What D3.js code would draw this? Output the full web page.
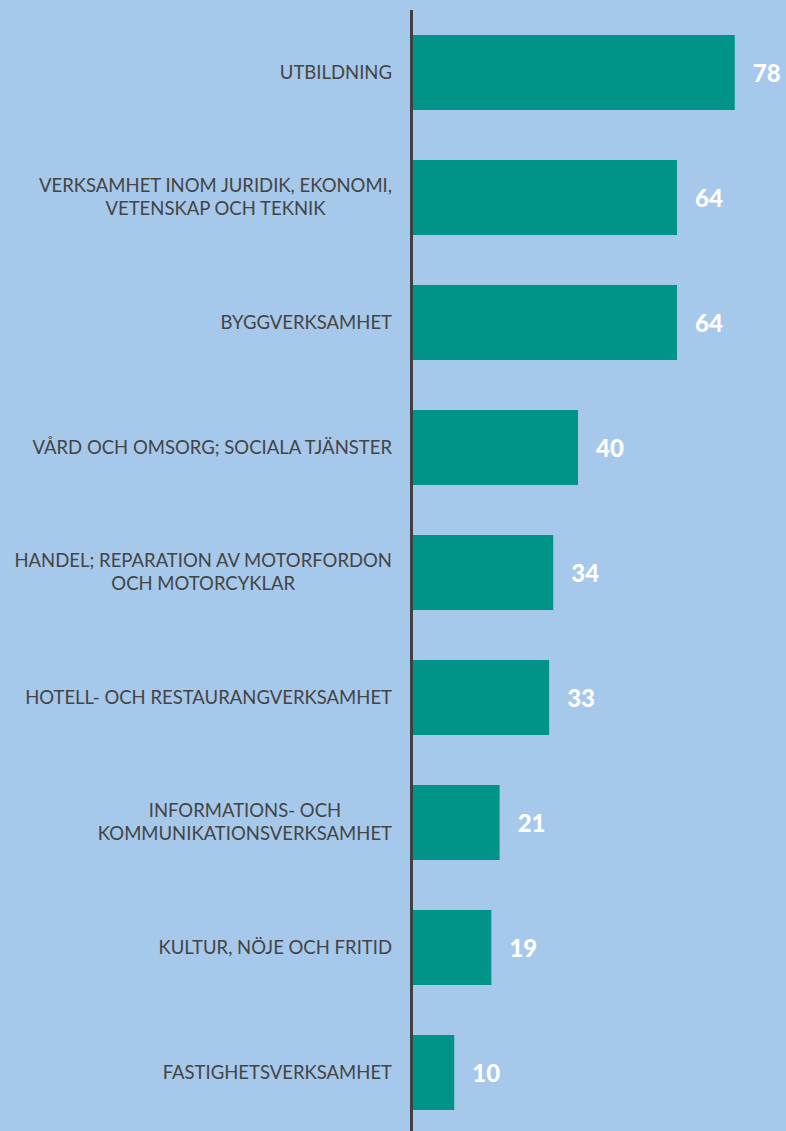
<!DOCTYPE html>
<html>
<head>
<meta charset="utf-8">
<script src="https://cdn.jsdelivr.net/npm/d3@7"></script>
<style>
    html, body { margin: 0; padding: 0; background: #A6C8EA; }
    svg { display: block; }
</style>
</head>
<body>
<div id="chart"></div>
<script>
// Categories (each entry is the list of lines of the label) and values
const categories = [
    ["UTBILDNING"],
    ["VERKSAMHET INOM JURIDIK, EKONOMI,", "VETENSKAP OCH TEKNIK"],
    ["BYGGVERKSAMHET"],
    ["VÅRD OCH OMSORG; SOCIALA TJÄNSTER"],
    ["HANDEL; REPARATION AV MOTORFORDON", "OCH MOTORCYKLAR"],
    ["HOTELL- OCH RESTAURANGVERKSAMHET"],
    ["INFORMATIONS- OCH", "KOMMUNIKATIONSVERKSAMHET"],
    ["KULTUR, NÖJE OCH FRITID"],
    ["FASTIGHETSVERKSAMHET"]
];
const values = [78, 64, 64, 40, 34, 33, 21, 19, 10];

function draw_chart() {
    const width = 786;
    const height = 1131;
    const axis_x = 411.5;
    const bar_left = 413;
    const label_right = 392;
    const line_height = 23;

    const bar_color = "#009488";
    const text_color = "#444444";

    const svg = d3.create("svg")
        .attr("width", width)
        .attr("height", height);

    svg.append("rect")
        .attr("width", width)
        .attr("height", height)
        .attr("fill", "#A6C8EA");

    const xScale = d3.scaleLinear()
        .domain([0, 80])
        .range([bar_left, bar_left + 330]);

    const yScale = d3.scaleBand()
        .domain(d3.range(values.length))
        .range([10, 1135])
        .paddingInner(0.4)
        .paddingOuter(0.2);

    // bars
    svg.append("g")
        .selectAll("rect")
        .data(values)
        .join("rect")
        .attr("x", xScale(0))
        .attr("y", (d, i) => yScale(i))
        .attr("width", d => xScale(d) - xScale(0))
        .attr("height", yScale.bandwidth())
        .attr("fill", bar_color);

    // value labels
    svg.append("g")
        .selectAll("text")
        .data(values)
        .join("text")
        .attr("x", d => xScale(d) + 18)
        .attr("y", (d, i) => yScale(i) + yScale.bandwidth() / 2 + 1)
        .attr("dy", "0.36em")
        .attr("font-family", "Lato, sans-serif")
        .attr("font-weight", 900)
        .attr("font-size", 24)
        .attr("fill", "#ffffff")
        .text(d => d);

    // vertical axis line
    svg.append("line")
        .attr("x1", axis_x)
        .attr("x2", axis_x)
        .attr("y1", 10)
        .attr("y2", height)
        .attr("stroke", "#404040")
        .attr("stroke-width", 3);

    container = d3.select("#chart");
    container.node().append(svg.node());

    // category labels: lines centered on each other, block right aligned
    const label_group = svg.append("g")
        .attr("font-family", "Lato, sans-serif")
        .attr("font-size", 18.5)
        .attr("fill", text_color);

    categories.forEach(function (lines, i) {
        const cy = yScale(i) + yScale.bandwidth() / 2;
        const g = label_group.append("g");
        const texts = lines.map(function (line, j) {
            return g.append("text")
                .attr("y", cy + (j - (lines.length - 1) / 2) * line_height)
                .attr("dy", "0.33em")
                .attr("text-anchor", "middle")
                .text(line);
        });
        const block_width = d3.max(texts, t => t.node().getComputedTextLength());
        texts.forEach(t => t.attr("x", label_right - block_width / 2));
    });
}

draw_chart();
</script>
</body>
</html>
